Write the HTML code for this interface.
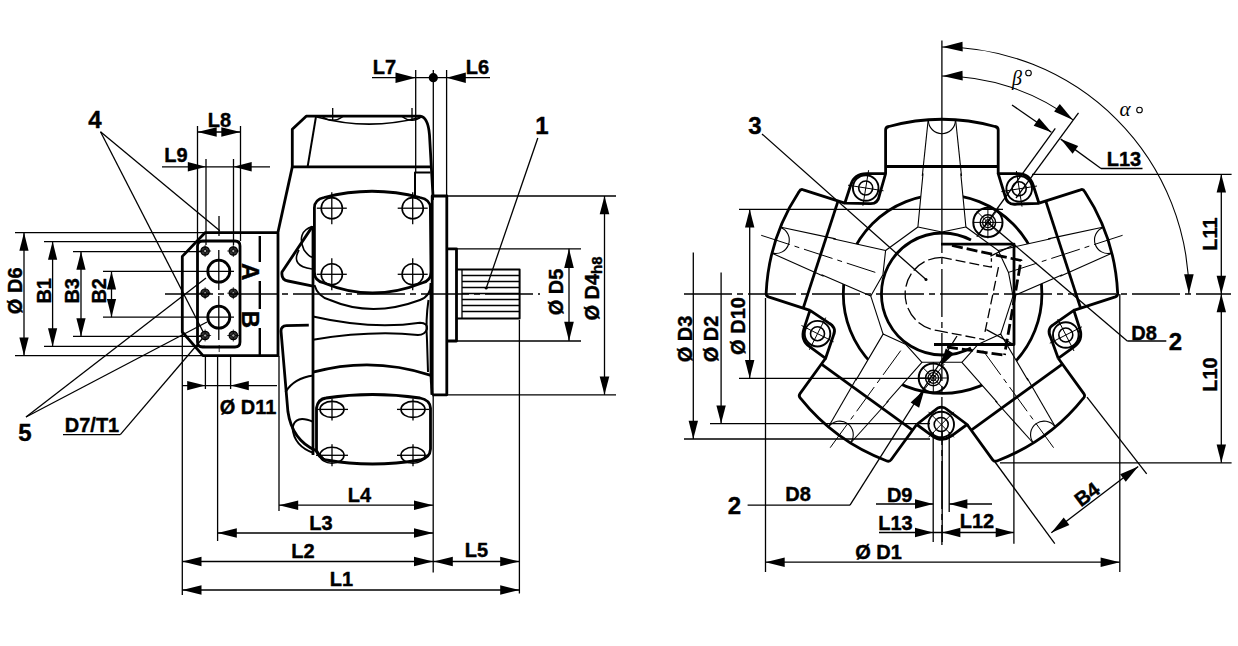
<!DOCTYPE html>
<html><head><meta charset="utf-8"><style>
html,body{margin:0;padding:0;background:#fff;}
svg{display:block;}
</style></head><body>
<svg width="1238" height="646" viewBox="0 0 1238 646">
<rect width="1238" height="646" fill="#fff"/>
<g fill="none" stroke="#000" stroke-linecap="butt" stroke-linejoin="round">
<line x1="197.5" y1="126" x2="197.5" y2="241" stroke-width="1.3" />
<line x1="240.5" y1="126" x2="240.5" y2="241" stroke-width="1.3" />
<line x1="197.5" y1="132" x2="240.5" y2="132" stroke-width="1.3" />
<polygon points="197.5,132 216.7,127.3 216.7,136.7" fill="#000" stroke="none"/>
<polygon points="240.5,132 221.3,136.7 221.3,127.3" fill="#000" stroke="none"/>
<text x="219.5" y="120" font-size="20" font-weight="bold" font-family="Liberation Sans" text-anchor="middle" dominant-baseline="central" fill="#000" stroke="#000" stroke-width="0.4" >L8</text>
<line x1="206" y1="159" x2="206" y2="245" stroke-width="1.3" />
<line x1="233.5" y1="159" x2="233.5" y2="245" stroke-width="1.3" />
<line x1="162" y1="166.8" x2="270" y2="166.8" stroke-width="1.3" />
<polygon points="206,166.8 187.8,171.5 187.8,162.1" fill="#000" stroke="none"/>
<polygon points="233.5,166.8 251.7,162.1 251.7,171.5" fill="#000" stroke="none"/>
<text x="176" y="155" font-size="20" font-weight="bold" font-family="Liberation Sans" text-anchor="middle" dominant-baseline="central" fill="#000" stroke="#000" stroke-width="0.4" >L9</text>
<text x="95" y="119" font-size="24" font-weight="bold" font-family="Liberation Sans" text-anchor="middle" dominant-baseline="central" fill="#000" stroke="#000" stroke-width="0.4" >4</text>
<line x1="100.5" y1="131.7" x2="219.8" y2="230.7" stroke-width="1.3" />
<line x1="100.5" y1="131.7" x2="205" y2="335.5" stroke-width="1.3" />
<line x1="219" y1="216" x2="219" y2="236" stroke-width="1.3" />
<line x1="15" y1="232.6" x2="205" y2="232.6" stroke-width="1.3" />
<line x1="15" y1="355.7" x2="205" y2="355.7" stroke-width="1.3" />
<line x1="24" y1="232.6" x2="24" y2="355.7" stroke-width="1.3" />
<polygon points="24,232.6 28.6,250.8 19.4,250.8" fill="#000" stroke="none"/>
<polygon points="24,355.7 19.4,337.5 28.6,337.5" fill="#000" stroke="none"/>
<text x="15" y="290.8" font-size="20" font-weight="bold" font-family="Liberation Sans" text-anchor="middle" dominant-baseline="central" transform="rotate(-90 15 290.8)" fill="#000" stroke="#000" stroke-width="0.4" >Ø D6</text>
<line x1="44" y1="241.6" x2="205" y2="241.6" stroke-width="1.3" />
<line x1="44" y1="346.4" x2="205" y2="346.4" stroke-width="1.3" />
<line x1="52.6" y1="241.6" x2="52.6" y2="346.4" stroke-width="1.3" />
<polygon points="52.6,241.6 57.2,259.8 48,259.8" fill="#000" stroke="none"/>
<polygon points="52.6,346.4 48,328.2 57.2,328.2" fill="#000" stroke="none"/>
<text x="44" y="290.8" font-size="20" font-weight="bold" font-family="Liberation Sans" text-anchor="middle" dominant-baseline="central" transform="rotate(-90 44 290.8)" fill="#000" stroke="#000" stroke-width="0.4" >B1</text>
<line x1="73" y1="251.6" x2="205" y2="251.6" stroke-width="1.3" />
<line x1="73" y1="336.4" x2="205" y2="336.4" stroke-width="1.3" />
<line x1="81" y1="251.6" x2="81" y2="336.4" stroke-width="1.3" />
<polygon points="81,251.6 85.6,269.8 76.4,269.8" fill="#000" stroke="none"/>
<polygon points="81,336.4 76.4,318.2 85.6,318.2" fill="#000" stroke="none"/>
<text x="72.5" y="290.8" font-size="20" font-weight="bold" font-family="Liberation Sans" text-anchor="middle" dominant-baseline="central" transform="rotate(-90 72.5 290.8)" fill="#000" stroke="#000" stroke-width="0.4" >B3</text>
<line x1="103" y1="271.4" x2="234" y2="271.4" stroke-width="1.3" />
<line x1="103" y1="317.2" x2="234" y2="317.2" stroke-width="1.3" />
<line x1="111.5" y1="271.4" x2="111.5" y2="317.2" stroke-width="1.3" />
<polygon points="111.5,271.4 116.1,289.6 106.9,289.6" fill="#000" stroke="none"/>
<polygon points="111.5,317.2 106.9,299 116.1,299" fill="#000" stroke="none"/>
<text x="99" y="290.8" font-size="20" font-weight="bold" font-family="Liberation Sans" text-anchor="middle" dominant-baseline="central" transform="rotate(-90 99 290.8)" fill="#000" stroke="#000" stroke-width="0.4" >B2</text>
<text x="25" y="432" font-size="24" font-weight="bold" font-family="Liberation Sans" text-anchor="middle" dominant-baseline="central" fill="#000" stroke="#000" stroke-width="0.4" >5</text>
<line x1="26" y1="417" x2="206" y2="278" stroke-width="1.3" />
<line x1="26" y1="417" x2="207" y2="322" stroke-width="1.3" />
<text x="92" y="424.5" font-size="20" font-weight="bold" font-family="Liberation Sans" text-anchor="middle" dominant-baseline="central" fill="#000" stroke="#000" stroke-width="0.4" >D7/T1</text>
<line x1="63" y1="434.6" x2="120.3" y2="434.6" stroke-width="1.3" />
<line x1="120.3" y1="434.6" x2="205" y2="335.5" stroke-width="1.3" />
<path d="M205,232.7 L278,232.7 L278,355.7 L203,355.7 L182.3,332 L182.3,256.4 Z" stroke-width="2.8" />
<path d="M197.5,246 Q197.5,241 202.5,241 L235,241 Q240,241 240,246 L240,342 Q240,347 235,347 L202.5,347 Q197.5,347 197.5,342 Z" stroke-width="2.8" />
<circle cx="218.8" cy="271.2" r="11" stroke-width="2.8" fill="none" />
<circle cx="218.8" cy="317.2" r="11" stroke-width="2.8" fill="none" />
<circle cx="205.1" cy="251" r="4.2" stroke-width="1.2" fill="#333" />
<line x1="199.1" y1="251" x2="211.1" y2="251" stroke-width="0.8" />
<line x1="205.1" y1="245" x2="205.1" y2="257" stroke-width="0.8" />
<circle cx="205.1" cy="251" r="1.6" stroke-width="0.8" fill="#aaa" />
<circle cx="233.3" cy="251" r="4.2" stroke-width="1.2" fill="#333" />
<line x1="227.3" y1="251" x2="239.3" y2="251" stroke-width="0.8" />
<line x1="233.3" y1="245" x2="233.3" y2="257" stroke-width="0.8" />
<circle cx="233.3" cy="251" r="1.6" stroke-width="0.8" fill="#aaa" />
<circle cx="205.1" cy="293.2" r="4.2" stroke-width="1.2" fill="#333" />
<line x1="199.1" y1="293.2" x2="211.1" y2="293.2" stroke-width="0.8" />
<line x1="205.1" y1="287.2" x2="205.1" y2="299.2" stroke-width="0.8" />
<circle cx="205.1" cy="293.2" r="1.6" stroke-width="0.8" fill="#aaa" />
<circle cx="233.3" cy="293.2" r="4.2" stroke-width="1.2" fill="#333" />
<line x1="227.3" y1="293.2" x2="239.3" y2="293.2" stroke-width="0.8" />
<line x1="233.3" y1="287.2" x2="233.3" y2="299.2" stroke-width="0.8" />
<circle cx="233.3" cy="293.2" r="1.6" stroke-width="0.8" fill="#aaa" />
<circle cx="205.1" cy="335.5" r="4.2" stroke-width="1.2" fill="#333" />
<line x1="199.1" y1="335.5" x2="211.1" y2="335.5" stroke-width="0.8" />
<line x1="205.1" y1="329.5" x2="205.1" y2="341.5" stroke-width="0.8" />
<circle cx="205.1" cy="335.5" r="1.6" stroke-width="0.8" fill="#aaa" />
<circle cx="233.3" cy="335.5" r="4.2" stroke-width="1.2" fill="#333" />
<line x1="227.3" y1="335.5" x2="239.3" y2="335.5" stroke-width="0.8" />
<line x1="233.3" y1="329.5" x2="233.3" y2="341.5" stroke-width="0.8" />
<circle cx="233.3" cy="335.5" r="1.6" stroke-width="0.8" fill="#aaa" />
<line x1="218.8" y1="250" x2="218.8" y2="290" stroke-width="1.3" />
<line x1="218.8" y1="296" x2="218.8" y2="340" stroke-width="1.3" />
<line x1="219.2" y1="345" x2="219.2" y2="352" stroke-width="0.8" />
<line x1="259.8" y1="236" x2="259.8" y2="262" stroke-width="2.4" />
<line x1="259.8" y1="281" x2="259.8" y2="309" stroke-width="2.4" />
<line x1="259.8" y1="328" x2="259.8" y2="355" stroke-width="2.4" />
<text x="250.3" y="271.8" font-size="24" font-weight="bold" font-family="Liberation Sans" text-anchor="middle" dominant-baseline="central" transform="rotate(90 250.3 271.8)" fill="#000" stroke="#000" stroke-width="0.4" >A</text>
<text x="250.3" y="319.4" font-size="24" font-weight="bold" font-family="Liberation Sans" text-anchor="middle" dominant-baseline="central" transform="rotate(90 250.3 319.4)" fill="#000" stroke="#000" stroke-width="0.4" >B</text>
<line x1="182.3" y1="332" x2="182.3" y2="595" stroke-width="1.3" />
<line x1="205.4" y1="356" x2="205.4" y2="389" stroke-width="1.3" />
<line x1="217.6" y1="356" x2="217.6" y2="541" stroke-width="1.3" />
<line x1="230.6" y1="356" x2="230.6" y2="389" stroke-width="1.3" />
<line x1="182.3" y1="385.6" x2="277" y2="385.6" stroke-width="1.3" />
<polygon points="205.4,385.6 187.2,390.3 187.2,380.9" fill="#000" stroke="none"/>
<polygon points="230.6,385.6 248.8,380.9 248.8,390.3" fill="#000" stroke="none"/>
<text x="248" y="406.5" font-size="20" font-weight="bold" font-family="Liberation Sans" text-anchor="middle" dominant-baseline="central" fill="#000" stroke="#000" stroke-width="0.4" >Ø D11</text>
<line x1="279" y1="356" x2="279" y2="511" stroke-width="1.3" />
<line x1="433.2" y1="395" x2="433.2" y2="572.6" stroke-width="1.3" />
<line x1="519.4" y1="320" x2="519.4" y2="593.6" stroke-width="1.3" />
<line x1="279" y1="505.2" x2="433.2" y2="505.2" stroke-width="1.3" />
<polygon points="279,505.2 298.2,500.5 298.2,509.9" fill="#000" stroke="none"/>
<polygon points="433.2,505.2 414,509.9 414,500.5" fill="#000" stroke="none"/>
<text x="359.5" y="494.5" font-size="20" font-weight="bold" font-family="Liberation Sans" text-anchor="middle" dominant-baseline="central" fill="#000" stroke="#000" stroke-width="0.4" >L4</text>
<line x1="217.6" y1="533" x2="433.2" y2="533" stroke-width="1.3" />
<polygon points="217.6,533 236.8,528.3 236.8,537.7" fill="#000" stroke="none"/>
<polygon points="433.2,533 414,537.7 414,528.3" fill="#000" stroke="none"/>
<text x="321" y="522.5" font-size="20" font-weight="bold" font-family="Liberation Sans" text-anchor="middle" dominant-baseline="central" fill="#000" stroke="#000" stroke-width="0.4" >L3</text>
<line x1="182.3" y1="561.5" x2="519.4" y2="561.5" stroke-width="1.3" />
<polygon points="182.3,561.5 201.5,556.8 201.5,566.2" fill="#000" stroke="none"/>
<polygon points="433.2,561.5 414,566.2 414,556.8" fill="#000" stroke="none"/>
<polygon points="433.6,561.5 452.8,556.8 452.8,566.2" fill="#000" stroke="none"/>
<polygon points="519.4,561.5 500.2,566.2 500.2,556.8" fill="#000" stroke="none"/>
<text x="303" y="551" font-size="20" font-weight="bold" font-family="Liberation Sans" text-anchor="middle" dominant-baseline="central" fill="#000" stroke="#000" stroke-width="0.4" >L2</text>
<text x="476.5" y="550" font-size="20" font-weight="bold" font-family="Liberation Sans" text-anchor="middle" dominant-baseline="central" fill="#000" stroke="#000" stroke-width="0.4" >L5</text>
<line x1="182.3" y1="590" x2="519.4" y2="590" stroke-width="1.3" />
<polygon points="182.3,590 201.5,585.3 201.5,594.7" fill="#000" stroke="none"/>
<polygon points="519.4,590 500.2,594.7 500.2,585.3" fill="#000" stroke="none"/>
<text x="341.5" y="578.5" font-size="20" font-weight="bold" font-family="Liberation Sans" text-anchor="middle" dominant-baseline="central" fill="#000" stroke="#000" stroke-width="0.4" >L1</text>
<line x1="415.7" y1="70" x2="415.7" y2="172" stroke-width="1.3" />
<line x1="433.3" y1="70" x2="433.3" y2="200" stroke-width="1.3" />
<line x1="446.6" y1="70" x2="446.6" y2="196" stroke-width="1.3" />
<line x1="372" y1="77.7" x2="490" y2="77.7" stroke-width="1.3" />
<polygon points="415.7,77.7 395.5,82.9 395.5,72.5" fill="#000" stroke="none"/>
<polygon points="446.6,77.7 465.8,72.5 465.8,82.9" fill="#000" stroke="none"/>
<circle cx="433.3" cy="77.7" r="4.6" stroke-width="0" fill="#000" />
<text x="384.5" y="67" font-size="20" font-weight="bold" font-family="Liberation Sans" text-anchor="middle" dominant-baseline="central" fill="#000" stroke="#000" stroke-width="0.4" >L7</text>
<text x="477.5" y="67" font-size="20" font-weight="bold" font-family="Liberation Sans" text-anchor="middle" dominant-baseline="central" fill="#000" stroke="#000" stroke-width="0.4" >L6</text>
<text x="542" y="125" font-size="24" font-weight="bold" font-family="Liberation Sans" text-anchor="middle" dominant-baseline="central" fill="#000" stroke="#000" stroke-width="0.4" >1</text>
<line x1="537.8" y1="138" x2="486.2" y2="288.2" stroke-width="1.3" />
<circle cx="486.2" cy="288.2" r="1.4" stroke-width="0" fill="#000" />
<line x1="447.2" y1="196" x2="616" y2="196" stroke-width="1.3" />
<line x1="447.2" y1="394.8" x2="616" y2="394.8" stroke-width="1.3" />
<line x1="604.5" y1="196" x2="604.5" y2="394.8" stroke-width="1.3" />
<polygon points="604.5,196 609.3,214.2 599.7,214.2" fill="#000" stroke="none"/>
<polygon points="604.5,394.8 599.7,376.6 609.3,376.6" fill="#000" stroke="none"/>
<text transform="rotate(-90 591.5 288.5)" x="591.5" y="288.5" font-size="20" font-weight="bold" font-family="Liberation Sans" text-anchor="middle" dominant-baseline="central" fill="#000" stroke="#000" stroke-width="0.4">Ø D4<tspan font-size="15" dy="4">h8</tspan></text>
<line x1="456.5" y1="248.8" x2="581" y2="248.8" stroke-width="1.3" />
<line x1="456.5" y1="341" x2="581" y2="341" stroke-width="1.3" />
<line x1="569" y1="248.8" x2="569" y2="341" stroke-width="1.3" />
<polygon points="569,248.8 573.8,268 564.2,268" fill="#000" stroke="none"/>
<polygon points="569,341 564.2,321.8 573.8,321.8" fill="#000" stroke="none"/>
<text x="556" y="292" font-size="20" font-weight="bold" font-family="Liberation Sans" text-anchor="middle" dominant-baseline="central" transform="rotate(-90 556 292)" fill="#000" stroke="#000" stroke-width="0.4" >Ø D5</text>
<line x1="165" y1="294" x2="540" y2="294" stroke-width="1.3" stroke-dasharray="48 5 6 5"/>
<path d="M432.2,394.8 L432.2,196 L446.8,196 L446.8,394.8 L432.2,394.8" stroke-width="2.8" />
<path d="M446.8,248.8 L456.5,248.8 L456.5,341 L446.8,341" stroke-width="2.8" />
<path d="M456.5,269.6 L519.6,269.6 L519.6,318.6 L456.5,318.6" stroke-width="2.0" />
<line x1="462" y1="269.6" x2="462" y2="318.6" stroke-width="1.3" />
<line x1="462" y1="275.5" x2="519.6" y2="275.5" stroke-width="1.3" />
<line x1="462" y1="281.5" x2="519.6" y2="281.5" stroke-width="1.3" />
<line x1="462" y1="287.5" x2="519.6" y2="287.5" stroke-width="1.3" />
<line x1="462" y1="293.5" x2="519.6" y2="293.5" stroke-width="1.3" />
<line x1="462" y1="299.5" x2="519.6" y2="299.5" stroke-width="1.3" />
<line x1="462" y1="305.5" x2="519.6" y2="305.5" stroke-width="1.3" />
<line x1="462" y1="311.5" x2="519.6" y2="311.5" stroke-width="1.3" />
<path d="M292.3,166.9 L292.3,129.3 L306.2,116.2 L420,116.2 Q428,117 429.5,135 L433,196" stroke-width="2.8" />
<line x1="292.3" y1="166.9" x2="430.2" y2="166.9" stroke-width="2.8" />
<line x1="316" y1="116.5" x2="307.6" y2="166.9" stroke-width="2.0" />
<path d="M317,117 Q368,131 420,117.5" stroke-width="1.7" />
<path d="M322,116.5 Q332.7,124 343,116.5" stroke-width="1.3" />
<path d="M402,116.5 Q412,124 422,116.5" stroke-width="1.3" />
<line x1="332.7" y1="108" x2="332.7" y2="121" stroke-width="1.3" />
<line x1="412" y1="108" x2="412" y2="121" stroke-width="1.3" />
<path d="M415,196 L415,172.4 L430.5,172.4" stroke-width="2.0" />
<path d="M292.3,166.9 L278,232" stroke-width="2.8" />
<path d="M314.4,208 Q314.4,199.5 324,197.5 Q372,185 420,197.5 Q430.4,199.5 430.4,208 L431,272 Q431,281 422,283 Q372,303 324,283 Q314.4,281 314.4,272 Z" stroke-width="2.8" />
<circle cx="331.8" cy="208.2" r="10.6" stroke-width="1.6" fill="none" />
<line x1="316.8" y1="208.2" x2="346.8" y2="208.2" stroke-width="1.3" />
<line x1="331.8" y1="192.2" x2="331.8" y2="224.2" stroke-width="1.3" />
<circle cx="412.7" cy="208.2" r="10.6" stroke-width="1.6" fill="none" />
<line x1="397.7" y1="208.2" x2="427.7" y2="208.2" stroke-width="1.3" />
<line x1="412.7" y1="192.2" x2="412.7" y2="224.2" stroke-width="1.3" />
<circle cx="331.8" cy="274.3" r="10.6" stroke-width="1.6" fill="none" />
<line x1="316.8" y1="274.3" x2="346.8" y2="274.3" stroke-width="1.3" />
<line x1="331.8" y1="258.3" x2="331.8" y2="290.3" stroke-width="1.3" />
<circle cx="412.7" cy="274.3" r="10.6" stroke-width="1.6" fill="none" />
<line x1="397.7" y1="274.3" x2="427.7" y2="274.3" stroke-width="1.3" />
<line x1="412.7" y1="258.3" x2="412.7" y2="290.3" stroke-width="1.3" />
<path d="M314.4,285 Q318,297 330,300 Q372,318 420,300 Q431,296 431,283" stroke-width="2.0" />
<path d="M428.5,300 Q425.5,320 427,340 L428,372" stroke-width="2.0" />
<path d="M312.3,226.6 L282,272 Q281,279.7 288,281 L313,286.2" stroke-width="2.8" />
<path d="M312.3,226.6 Q296,232 304,250 Q310,258 313,257" stroke-width="1.6" />
<path d="M299,250 Q290,266 312,269" stroke-width="1.6" />
<line x1="313" y1="226" x2="313" y2="455" stroke-width="2.8" />
<path d="M313,316.5 Q372,330 420,322.7 Q428,323 427,329 Q425,335 418,335 Q372,330 313,339.7" stroke-width="2.0" />
<path d="M308.8,325.1 L286.5,325.6 Q281,326 281,331 L287.9,411.5 Q292,440 315.7,450.5 L324,460" stroke-width="2.8" />
<path d="M313.5,375.5 Q294,378 285.5,392" stroke-width="2.0" />
<path d="M313.5,422 Q295,414 292.5,428 Q294,446 313.5,453" stroke-width="2.0" />
<path d="M313,372.2 Q372,356 431,375.3" stroke-width="2.8" />
<path d="M316.5,408 Q318,399 326,398 Q372,391 420,398 Q430,400 430.5,408 L430.5,449 Q430,458 420,460 Q372,468 326,460 Q318,458 316.5,450 Z" stroke-width="2.8" />
<ellipse cx="332" cy="409.4" rx="12" ry="8" stroke-width="1.6" />
<line x1="316" y1="409.4" x2="348" y2="409.4" stroke-width="1.3" />
<line x1="332" y1="398.4" x2="332" y2="420.4" stroke-width="1.3" />
<ellipse cx="413" cy="409.4" rx="12" ry="8" stroke-width="1.6" />
<line x1="397" y1="409.4" x2="429" y2="409.4" stroke-width="1.3" />
<line x1="413" y1="398.4" x2="413" y2="420.4" stroke-width="1.3" />
<ellipse cx="332" cy="455.3" rx="12" ry="8" stroke-width="1.6" />
<line x1="316" y1="455.3" x2="348" y2="455.3" stroke-width="1.3" />
<line x1="332" y1="444.3" x2="332" y2="466.3" stroke-width="1.3" />
<ellipse cx="413" cy="455.3" rx="12" ry="8" stroke-width="1.6" />
<line x1="397" y1="455.3" x2="429" y2="455.3" stroke-width="1.3" />
<line x1="413" y1="444.3" x2="413" y2="466.3" stroke-width="1.3" />
<line x1="431" y1="283" x2="431" y2="375" stroke-width="2.8" />
<line x1="431" y1="375" x2="432" y2="394.8" stroke-width="2.8" />
<circle cx="942.6" cy="294" r="99.3" stroke-width="2.8" fill="none" />
<path d="M971,240.1 A61,61 0 1 0 971,347.9" stroke-width="2.8"/>
<path d="M965.9,227 L998.2,250.5 " stroke-width="1.1"/>
<path d="M1013,296.1 L1000.7,334.1 " stroke-width="1.1"/>
<path d="M961.9,362.3 L921.9,362.3 " stroke-width="1.1"/>
<path d="M883.1,334.1 L870.8,296.1 " stroke-width="1.1"/>
<path d="M885.6,250.5 L917.9,227 " stroke-width="1.1"/>
<path d="M928.1,120.5 L917.9,227 L941.9,232 L965.9,227 L955.7,120.5 " stroke-width="1.1" fill="#fff"/>
<path d="M885.6,173.6 L885.6,130 Q885.6,127 888.9,126.5 Q941.9,112 994.9,126.5 Q998.2,127 998.2,130 L998.2,173.6 " stroke-width="2.8" fill="#fff"/>
<path d="M928.1,120.5 L922.3,176 " stroke-width="1.1"/>
<path d="M955.7,120.5 L961.5,176 " stroke-width="1.1"/>
<path d="M885.6,166.5 L998.2,166.5 " stroke-width="2.8"/>
<path d="M928.4,120.2 A13.5,13.5 0 0 0 955.4,120.2" stroke-width="1.1"/>
<path d="M998.2,173.6 L1017.9,173.6 Q1029.4,173.6 1033.1,185 L1039,203.3 L1016.9,204 Q1007.3,205.5 1005.4,197 Z" stroke-width="2.8" fill="#fff"/>
<circle cx="1019.2" cy="188.8" r="12.8" stroke-width="1.9" fill="none" />
<circle cx="1019.2" cy="188.8" r="7" stroke-width="1.6" fill="none" />
<line x1="1001.4" y1="191.6" x2="1037" y2="186" stroke-width="1.0" />
<line x1="1022" y1="206.6" x2="1016.4" y2="171" stroke-width="1.0" />
<path d="M1102.6,227.3 L998.2,250.5 L1008.5,272.4 L1013,296.1 L1111.2,253.5 " stroke-width="1.1" fill="#fff"/>
<path d="M1039,203.2 L1080.5,189.8 Q1083.3,188.8 1084.8,191.8 Q1115,237.8 1117.6,292.6 Q1118.1,295.9 1115.3,296.9 L1073.8,310.3 " stroke-width="2.8" fill="#fff"/>
<path d="M1102.6,227.3 L1048.1,238.9 " stroke-width="1.1"/>
<path d="M1111.2,253.5 L1060.2,276.2 " stroke-width="1.1"/>
<path d="M1045.8,201.1 L1080.6,308.1 " stroke-width="2.8"/>
<path d="M1103,227.5 A13.5,13.5 0 0 0 1111.4,253.1" stroke-width="1.1"/>
<path d="M1122.6,235.3 L1006.6,273 " stroke-width="1.0" stroke-dasharray="30 5 5 5"/>
<path d="M1073.8,310.3 L1079.9,329.1 Q1083.4,340 1073.7,347.1 L1058.2,358.3 L1050.7,337.5 Q1046.3,328.9 1053.8,324.4 Z" stroke-width="2.8" fill="#fff"/>
<circle cx="1065.8" cy="335" r="12.8" stroke-width="1.9" fill="none" />
<circle cx="1065.8" cy="335" r="7" stroke-width="1.6" fill="none" />
<line x1="1057.7" y1="319" x2="1074" y2="351" stroke-width="1.0" />
<line x1="1049.8" y1="343.2" x2="1081.9" y2="326.8" stroke-width="1.0" />
<path d="M1055,426.3 L1000.7,334.1 L978.3,344.2 L961.9,362.3 L1032.7,442.5 " stroke-width="1.1" fill="#fff"/>
<path d="M1058.2,358.3 L1083.8,393.6 Q1085.6,396 1083.2,398.4 Q1048.9,441.2 997.5,460.7 Q994.5,462.2 992.7,459.8 L967.1,424.5 " stroke-width="2.8" fill="#fff"/>
<path d="M1055,426.3 L1027.1,377.9 " stroke-width="1.1"/>
<path d="M1032.7,442.5 L995.4,401 " stroke-width="1.1"/>
<path d="M1062.4,364.1 L971.3,430.2 " stroke-width="2.8"/>
<path d="M1055,426.7 A13.5,13.5 0 0 0 1033.1,442.5" stroke-width="1.1"/>
<path d="M1053.6,447.7 L981.9,349 " stroke-width="1.0" stroke-dasharray="30 5 5 5"/>
<path d="M967.1,424.5 L951.2,436.1 Q941.9,442.8 932.2,435.8 L916.7,424.5 L934.1,410.9 Q941,404 947.5,409.8 Z" stroke-width="2.8" fill="#fff"/>
<circle cx="941.2" cy="424.5" r="12.8" stroke-width="1.9" fill="none" />
<circle cx="941.2" cy="424.5" r="7" stroke-width="1.6" fill="none" />
<line x1="953.9" y1="411.8" x2="928.5" y2="437.3" stroke-width="1.0" />
<line x1="928.5" y1="411.8" x2="953.9" y2="437.3" stroke-width="1.0" />
<path d="M851.1,442.5 L921.9,362.3 L905.5,344.2 L883.1,334.1 L828.8,426.3 " stroke-width="1.1" fill="#fff"/>
<path d="M916.7,424.5 L891.1,459.8 Q889.3,462.2 886.3,460.7 Q834.9,441.2 800.6,398.4 Q798.2,396 800,393.6 L825.6,358.3 " stroke-width="2.8" fill="#fff"/>
<path d="M851.1,442.5 L888.4,401 " stroke-width="1.1"/>
<path d="M828.8,426.3 L856.7,377.9 " stroke-width="1.1"/>
<path d="M912.5,430.2 L821.4,364.1 " stroke-width="2.8"/>
<path d="M850.7,442.5 A13.5,13.5 0 0 0 828.8,426.7" stroke-width="1.1"/>
<path d="M830.2,447.7 L901.9,349 " stroke-width="1.0" stroke-dasharray="30 5 5 5"/>
<path d="M825.6,358.3 L809.6,346.7 Q800.3,340 804,328.6 L810,310.3 L828.3,322.7 Q837,327.2 833.5,335.2 Z" stroke-width="2.8" fill="#fff"/>
<circle cx="817.5" cy="333.7" r="12.8" stroke-width="1.9" fill="none" />
<circle cx="817.5" cy="333.7" r="7" stroke-width="1.6" fill="none" />
<line x1="833.6" y1="341.8" x2="801.5" y2="325.5" stroke-width="1.0" />
<line x1="825.7" y1="317.6" x2="809.4" y2="349.7" stroke-width="1.0" />
<path d="M772.6,253.5 L870.8,296.1 L882.9,274.8 L885.6,250.5 L781.2,227.3 " stroke-width="1.1" fill="#fff"/>
<path d="M810,310.3 L768.5,296.9 Q765.7,295.9 766.2,292.6 Q768.8,237.8 799,191.8 Q800.5,188.8 803.3,189.8 L844.8,203.2 " stroke-width="2.8" fill="#fff"/>
<path d="M772.6,253.5 L823.6,276.2 " stroke-width="1.1"/>
<path d="M781.2,227.3 L835.7,238.9 " stroke-width="1.1"/>
<path d="M803.2,308.1 L838,201.1 " stroke-width="2.8"/>
<path d="M772.4,253.1 A13.5,13.5 0 0 0 780.8,227.5" stroke-width="1.1"/>
<path d="M761.2,235.3 L877.2,273 " stroke-width="1.0" stroke-dasharray="30 5 5 5"/>
<path d="M844.8,203.2 L850.9,184.5 Q854.4,173.6 866.4,173.6 L885.6,173.6 L879.5,194.9 Q877.9,204.5 869.3,203.6 Z" stroke-width="2.8" fill="#fff"/>
<circle cx="865.7" cy="188" r="12.8" stroke-width="1.9" fill="none" />
<circle cx="865.7" cy="188" r="7" stroke-width="1.6" fill="none" />
<line x1="862.9" y1="205.8" x2="868.6" y2="170.2" stroke-width="1.0" />
<line x1="883.5" y1="190.8" x2="848" y2="185.2" stroke-width="1.0" />
<circle cx="987.9" cy="222.4" r="14.6" stroke-width="2.0" fill="none" />
<circle cx="987.9" cy="222.4" r="7.7" stroke-width="1.5" fill="none" />
<circle cx="987.9" cy="222.4" r="5.3" stroke-width="1.3" fill="none" />
<circle cx="987.9" cy="222.4" r="2.8" stroke-width="1.0" fill="none" />
<line x1="987.9" y1="206.4" x2="987.9" y2="238.4" stroke-width="1.0" />
<line x1="973.9" y1="222.4" x2="1001.9" y2="222.4" stroke-width="1.0" />
<line x1="976.9" y1="236.4" x2="998.9" y2="208.4" stroke-width="1.0" />
<line x1="976.9" y1="211.4" x2="998.9" y2="233.4" stroke-width="1.0" />
<circle cx="933.3" cy="378" r="14.6" stroke-width="2.0" fill="none" />
<circle cx="933.3" cy="378" r="7.7" stroke-width="1.5" fill="none" />
<circle cx="933.3" cy="378" r="5.3" stroke-width="1.3" fill="none" />
<circle cx="933.3" cy="378" r="2.8" stroke-width="1.0" fill="none" />
<line x1="933.3" y1="362" x2="933.3" y2="394" stroke-width="1.0" />
<line x1="919.3" y1="378" x2="947.3" y2="378" stroke-width="1.0" />
<line x1="922.3" y1="392" x2="944.3" y2="364" stroke-width="1.0" />
<line x1="922.3" y1="367" x2="944.3" y2="389" stroke-width="1.0" />
<path d="M941,244.1 L1014,244.1 L1014,344.5 L934,344.5" stroke-width="2.8" />
<path d="M952,245.5 L1021,260.5 L1004.5,355" stroke-width="2.8" stroke-dasharray="11 4"/>
<path d="M947,347 L1003,355" stroke-width="2.8" stroke-dasharray="11 4"/>
<path d="M941.9,257.4 A36.7,36.7 0 0 0 938,330.6" stroke-width="1.3" stroke-dasharray="14 4"/>
<path d="M941.9,257.4 L991.4,267.2 L991.4,258.2" stroke-width="1.3" stroke-dasharray="10 4"/>
<path d="M998.5,267.2 L984.4,334.6" stroke-width="1.3" stroke-dasharray="10 4"/>
<path d="M938,330.6 L984.4,339.7" stroke-width="1.3" stroke-dasharray="10 4"/>
<line x1="990.4" y1="256.2" x2="1013.6" y2="245" stroke-width="1.3" />
<line x1="986.4" y1="329.6" x2="1013.6" y2="344.5" stroke-width="1.3" />
<line x1="941.9" y1="40.5" x2="941.9" y2="205" stroke-width="1.3" />
<line x1="941.9" y1="205" x2="941.9" y2="545" stroke-width="1.3" stroke-dasharray="48 5 6 5"/>
<line x1="684" y1="294" x2="1231" y2="294" stroke-width="1.3" stroke-dasharray="48 5 6 5"/>
<text x="755" y="125" font-size="24" font-weight="bold" font-family="Liberation Sans" text-anchor="middle" dominant-baseline="central" fill="#000" stroke="#000" stroke-width="0.4" >3</text>
<line x1="762" y1="134" x2="926" y2="279.6" stroke-width="1.3" />
<circle cx="926" cy="279.6" r="1.5" stroke-width="0" fill="#000" />
<line x1="739" y1="209.3" x2="1003" y2="209.3" stroke-width="1.3" />
<line x1="739" y1="378.3" x2="931" y2="378.3" stroke-width="1.3" />
<line x1="749.7" y1="209.3" x2="749.7" y2="378.3" stroke-width="1.3" />
<polygon points="749.7,209.3 754.4,227.5 745,227.5" fill="#000" stroke="none"/>
<polygon points="749.7,378.3 745,360.1 754.4,360.1" fill="#000" stroke="none"/>
<text x="738" y="326" font-size="20" font-weight="bold" font-family="Liberation Sans" text-anchor="middle" dominant-baseline="central" transform="rotate(-90 738 326)" fill="#000" stroke="#000" stroke-width="0.4" >Ø D10</text>
<line x1="710" y1="423.6" x2="930" y2="423.6" stroke-width="1.3" />
<line x1="721.1" y1="272.5" x2="721.1" y2="423.6" stroke-width="1.3" />
<polygon points="721.1,423.6 716.4,405.4 725.8,405.4" fill="#000" stroke="none"/>
<text x="711" y="339" font-size="20" font-weight="bold" font-family="Liberation Sans" text-anchor="middle" dominant-baseline="central" transform="rotate(-90 711 339)" fill="#000" stroke="#000" stroke-width="0.4" >Ø D2</text>
<line x1="684" y1="439" x2="930" y2="439" stroke-width="1.3" />
<line x1="693.3" y1="252.4" x2="693.3" y2="439" stroke-width="1.3" />
<polygon points="693.3,439 688.6,420.8 698,420.8" fill="#000" stroke="none"/>
<text x="685" y="339" font-size="20" font-weight="bold" font-family="Liberation Sans" text-anchor="middle" dominant-baseline="central" transform="rotate(-90 685 339)" fill="#000" stroke="#000" stroke-width="0.4" >Ø D3</text>
<line x1="765.5" y1="298" x2="765.5" y2="572" stroke-width="1.3" />
<line x1="1119.8" y1="294" x2="1119.8" y2="572" stroke-width="1.3" />
<line x1="765.5" y1="562.2" x2="1119.8" y2="562.2" stroke-width="1.3" />
<polygon points="765.5,562.2 784.7,557.5 784.7,566.9" fill="#000" stroke="none"/>
<polygon points="1119.8,562.2 1100.6,566.9 1100.6,557.5" fill="#000" stroke="none"/>
<text x="878.5" y="551.5" font-size="20" font-weight="bold" font-family="Liberation Sans" text-anchor="middle" dominant-baseline="central" fill="#000" stroke="#000" stroke-width="0.4" >Ø D1</text>
<line x1="933.2" y1="432" x2="933.2" y2="542" stroke-width="1.3" />
<line x1="949.2" y1="432" x2="949.2" y2="512" stroke-width="1.3" />
<line x1="942.2" y1="432" x2="942.2" y2="542" stroke-width="1.3" />
<line x1="876" y1="504" x2="933.2" y2="504" stroke-width="1.3" />
<polygon points="933.2,504 915,508.7 915,499.3" fill="#000" stroke="none"/>
<line x1="949.2" y1="504" x2="992" y2="504" stroke-width="1.3" />
<polygon points="949.2,504 967.4,499.3 967.4,508.7" fill="#000" stroke="none"/>
<text x="899.7" y="495" font-size="20" font-weight="bold" font-family="Liberation Sans" text-anchor="middle" dominant-baseline="central" fill="#000" stroke="#000" stroke-width="0.4" >D9</text>
<line x1="879" y1="532.5" x2="1013.9" y2="532.5" stroke-width="1.3" />
<polygon points="933.2,532.5 915,537.2 915,527.8" fill="#000" stroke="none"/>
<polygon points="942.2,532.5 960.4,527.8 960.4,537.2" fill="#000" stroke="none"/>
<polygon points="1013.9,532.5 995.7,537.2 995.7,527.8" fill="#000" stroke="none"/>
<text x="895.5" y="523" font-size="20" font-weight="bold" font-family="Liberation Sans" text-anchor="middle" dominant-baseline="central" fill="#000" stroke="#000" stroke-width="0.4" >L13</text>
<text x="977" y="520.7" font-size="20" font-weight="bold" font-family="Liberation Sans" text-anchor="middle" dominant-baseline="central" fill="#000" stroke="#000" stroke-width="0.4" >L12</text>
<line x1="1013.9" y1="344" x2="1013.9" y2="543.7" stroke-width="1.3" />
<text x="734.5" y="505" font-size="24" font-weight="bold" font-family="Liberation Sans" text-anchor="middle" dominant-baseline="central" fill="#000" stroke="#000" stroke-width="0.4" >2</text>
<text x="798" y="494" font-size="20" font-weight="bold" font-family="Liberation Sans" text-anchor="middle" dominant-baseline="central" fill="#000" stroke="#000" stroke-width="0.4" >D8</text>
<line x1="747.6" y1="505.2" x2="850" y2="505.2" stroke-width="1.3" />
<line x1="850" y1="505.2" x2="957" y2="336" stroke-width="1.3" />
<polygon points="924.5,389.6 919.1,407.7 910.6,402.4" fill="#000" stroke="none"/>
<polygon points="940.3,366.5 945.7,348.4 954.2,353.7" fill="#000" stroke="none"/>
<text x="1144" y="332.5" font-size="20" font-weight="bold" font-family="Liberation Sans" text-anchor="middle" dominant-baseline="central" fill="#000" stroke="#000" stroke-width="0.4" >D8</text>
<text x="1175.5" y="341" font-size="24" font-weight="bold" font-family="Liberation Sans" text-anchor="middle" dominant-baseline="central" fill="#000" stroke="#000" stroke-width="0.4" >2</text>
<line x1="1127.3" y1="341" x2="1166.3" y2="341" stroke-width="1.3" />
<line x1="1127.3" y1="341" x2="988" y2="222.4" stroke-width="1.3" />
<line x1="995" y1="462" x2="1054.8" y2="543.7" stroke-width="1.3" />
<line x1="1087" y1="397.2" x2="1146.7" y2="473.9" stroke-width="1.3" />
<line x1="1051.3" y1="532.8" x2="1138.2" y2="466.4" stroke-width="1.3" />
<polygon points="1051.3,532.8 1063.7,517.4 1069.4,524.9" fill="#000" stroke="none"/>
<polygon points="1138.2,466.4 1125.8,481.8 1120.1,474.3" fill="#000" stroke="none"/>
<text x="1087" y="494.3" font-size="20" font-weight="bold" font-family="Liberation Sans" text-anchor="middle" dominant-baseline="central" transform="rotate(-37 1087 494.3)" fill="#000" stroke="#000" stroke-width="0.4" >B4</text>
<line x1="1032" y1="174.3" x2="1231.6" y2="174.3" stroke-width="1.3" />
<line x1="1000" y1="462.8" x2="1231.6" y2="462.8" stroke-width="1.3" />
<line x1="1221.3" y1="174.3" x2="1221.3" y2="462.8" stroke-width="1.3" />
<polygon points="1221.3,174.3 1226,192.5 1216.6,192.5" fill="#000" stroke="none"/>
<polygon points="1221.3,294 1216.6,275.8 1226,275.8" fill="#000" stroke="none"/>
<polygon points="1221.3,294 1226,312.2 1216.6,312.2" fill="#000" stroke="none"/>
<polygon points="1221.3,462.8 1216.6,444.6 1226,444.6" fill="#000" stroke="none"/>
<text x="1210" y="234" font-size="20" font-weight="bold" font-family="Liberation Sans" text-anchor="middle" dominant-baseline="central" transform="rotate(-90 1210 234)" fill="#000" stroke="#000" stroke-width="0.4" >L11</text>
<text x="1210" y="374.5" font-size="20" font-weight="bold" font-family="Liberation Sans" text-anchor="middle" dominant-baseline="central" transform="rotate(-90 1210 374.5)" fill="#000" stroke="#000" stroke-width="0.4" >L10</text>
<path d="M941.9,47 A247,247 0 0 1 1188.9,294" stroke-width="1.1"/>
<polygon points="942.4,47 962.5,41.8 962.7,51.4" fill="#000" stroke="none"/>
<polygon points="1188.9,293.5 1184.1,274.3 1193.7,274.3" fill="#000" stroke="none"/>
<text x="1125" y="108.5" font-size="21" font-weight="normal" font-family="Liberation Serif" text-anchor="middle" dominant-baseline="central" font-style="italic" fill="#000" stroke="#000" stroke-width="0" >α</text>
<circle cx="1139.5" cy="110" r="2.8" stroke-width="1.1" fill="none" />
<path d="M941.9,76 A218,218 0 0 1 1073.1,119.9" stroke-width="1.1"/>
<polygon points="942.4,76 962.5,70.8 962.7,80.4" fill="#000" stroke="none"/>
<polygon points="1073.1,119.9 1054.1,111.6 1059.8,103.9" fill="#000" stroke="none"/>
<text x="1017" y="78" font-size="20" font-weight="normal" font-family="Liberation Serif" text-anchor="middle" dominant-baseline="central" font-style="italic" fill="#000" stroke="#000" stroke-width="0" >β</text>
<circle cx="1028.5" cy="73" r="2.8" stroke-width="1.1" fill="none" />
<line x1="1016" y1="198" x2="1078.5" y2="112.8" stroke-width="1.3" />
<line x1="977" y1="236.5" x2="1055.3" y2="128.3" stroke-width="1.3" />
<line x1="1012" y1="105" x2="1051.4" y2="132.2" stroke-width="1.3" />
<polygon points="1051.4,132.2 1033.7,125.8 1039.1,117.9" fill="#000" stroke="none"/>
<line x1="1060.7" y1="139.1" x2="1101" y2="168.5" stroke-width="1.3" />
<polygon points="1060.7,139.1 1078.2,145.9 1072.6,153.7" fill="#000" stroke="none"/>
<line x1="1101" y1="168.5" x2="1142.5" y2="168.5" stroke-width="1.3" />
<text x="1124" y="158.5" font-size="20" font-weight="bold" font-family="Liberation Sans" text-anchor="middle" dominant-baseline="central" fill="#000" stroke="#000" stroke-width="0.4" >L13</text>
</g></svg></body></html>
